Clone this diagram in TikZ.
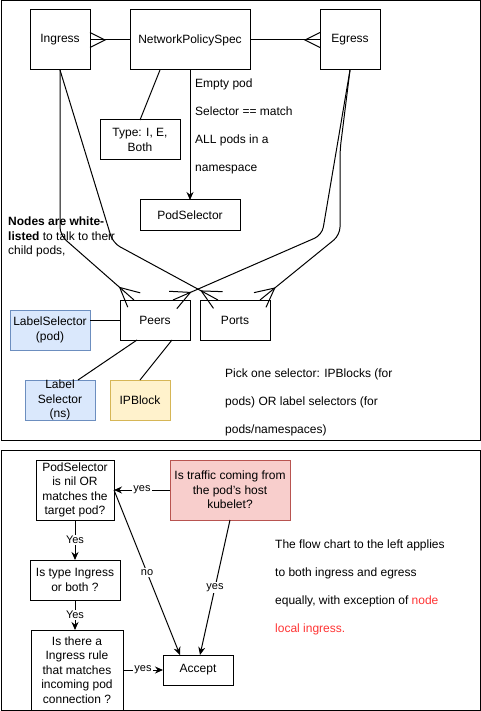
\documentclass[tikz,border=0pt]{standalone}
\usepackage{fontspec}
\setmainfont{Liberation Sans}
\usepackage{xcolor}
\definecolor{npblue}{HTML}{DAE8FC}
\definecolor{npbluedark}{HTML}{6C8EBF}
\definecolor{npyellow}{HTML}{FFF2CC}
\definecolor{npyellowdark}{HTML}{D6B656}
\definecolor{npred}{HTML}{F8CECC}
\definecolor{npreddark}{HTML}{B85450}
\definecolor{nphl}{HTML}{FF3333}
\usepackage{tikz}
\usetikzlibrary{arrows.meta, positioning, calc}

% crow's foot ("many") end
\pgfdeclarearrow{
  name = Crow,
  parameters = {\the\pgfarrowlength,\the\pgfarrowwidth},
  setup code = {
    \pgfarrowssettipend{0pt}
    \pgfarrowssetlineend{0pt}
    \pgfarrowssetbackend{-\pgfarrowlength}
    \pgfarrowssetvisualbackend{-\pgfarrowlength}
    \pgfarrowshullpoint{0pt}{.5\pgfarrowwidth}
    \pgfarrowshullpoint{0pt}{-.5\pgfarrowwidth}
    \pgfarrowshullpoint{-\pgfarrowlength}{0pt}
    \pgfarrowssavethe\pgfarrowlength
    \pgfarrowssavethe\pgfarrowwidth
  },
  drawing code = {
    \pgfsetdash{}{0pt}
    \pgfpathmoveto{\pgfqpoint{0pt}{.5\pgfarrowwidth}}
    \pgfpathlineto{\pgfqpoint{-\pgfarrowlength}{0pt}}
    \pgfpathlineto{\pgfqpoint{0pt}{-.5\pgfarrowwidth}}
    \pgfusepathqstroke
  },
  defaults = {length=15pt, width=15pt}
}

\begin{document}
\begin{tikzpicture}[
  x=1pt, y=-1pt,
  font=\fontsize{12}{14.4}\selectfont,
  box/.style={rectangle, draw=black, fill=white, line width=1pt,
    outer sep=0pt, inner sep=2pt, align=center},
  bluebox/.style={box, draw=npbluedark, fill=npblue},
  yellowbox/.style={box, draw=npyellowdark, fill=npyellow},
  redbox/.style={box, draw=npreddark, fill=npred},
  note/.style={anchor=west, align=left, inner sep=2pt,
    font=\fontsize{12}{28}\selectfont},
  link/.style={line width=1pt},
  arr/.style={-{Stealth[length=8pt, width=7pt]}, line width=1pt},
  crow/.style={-{Crow[length=15pt, width=15pt]}, line width=1pt},
  crowb/.style={-{Crow[length=19pt, width=19pt]}, line width=1pt,
    rounded corners=8pt},
  lbl/.style={font=\fontsize{11}{13}\selectfont, fill=white, inner sep=1pt},
  frame/.style={line width=1pt}
]
  \useasboundingbox (0,0) rectangle (481,711);
  \draw[frame] (1,1) rectangle (480,440);
  \draw[frame] (1,450) rectangle (480,710);

  % Top: the policy objects
  \node[box, minimum width=60pt, minimum height=60pt] (ingress) at (60,40) {Ingress};
  \node[box, minimum width=120pt, minimum height=60pt, right=40pt of ingress] (nps)
    {NetworkPolicySpec};
  \node[box, minimum width=60pt, minimum height=60pt, right=70pt of nps] (egress) {Egress};
  \node[box, minimum width=80pt, minimum height=40pt] (type) at (140,140)
    {Type: I, E,\\Both};
  \node[box, minimum width=100pt, minimum height=30pt] (podsel) at (190,215)
    {PodSelector};
  \node[box, minimum width=70pt, minimum height=40pt] (peers) at (155,320) {Peers};
  \node[box, minimum width=70pt, minimum height=40pt, right=10pt of peers] (ports)
    {Ports};
  \node[bluebox, minimum width=80pt, minimum height=40pt] (lblpod) at (50,330)
    {LabelSelector\\(pod)};
  \node[bluebox, minimum width=70pt, minimum height=40pt, inner sep=0pt] (lblns)
    at (60,400) {Label\\Selector\\(ns)};
  \node[yellowbox, minimum width=60pt, minimum height=40pt] (ipblock) at (140,400)
    {IPBlock};

  \node[note] (emptynote) at (193,126)
    {Empty pod\\Selector == match\\ALL pods in a\\namespace};
  \node[anchor=west, align=left, inner sep=2pt] (wlnote) at (6,237)
    {\textbf{Nodes are white-}\\\textbf{listed} to talk to their\\child pods,};
  \node[note] (picknote) at (223,402)
    {Pick one selector: IPBlocks (for\\pods) OR label selectors (for\\pods/namespaces)};

  \draw[crow] (nps) -- (ingress);
  \draw[crow] (nps) -- (egress);
  \draw[arr] (nps.south) -- (podsel.north);
  \draw[link] ($(nps.south)+(-30,0)$) -- (type.north);
  \draw[crowb] (ingress.south) -- ++(0,165) -- ($(peers.north)+(-21,0)$);
  \draw[crowb] (ingress.south) -- (113,243) -- ($(ports.north)+(-17,0)$);
  \draw[crowb] (egress.south) -- (322,235) -- ($(peers.north)+(18,0)$);
  \draw[crowb] (egress.south) -- (340,150) -- (340,235) -- ($(ports.north)+(25,0)$);
  \draw[link] (peers.west) -- (peers.west -| lblpod.east);
  \draw[link] ($(peers.south)+(-18,0)$) -- ($(lblns.north)+(18,0)$);
  \draw[link] ($(peers.south)+(17,0)$) -- (ipblock.north);

  % Bottom: flow chart
  \node[box, minimum width=78pt, minimum height=60pt] (selnil) at (75,490)
    {PodSelector\\is nil OR\\matches the\\target pod?};
  \node[redbox, minimum width=120pt, minimum height=60pt] (kubelet) at (230,490)
    {Is traffic coming from\\the pod's host\\kubelet?};
  \node[box, minimum width=90pt, minimum height=40pt] (itype) at (75,580)
    {Is type Ingress\\or both ?};
  \node[box, minimum width=92pt, minimum height=80pt] (irule) at (77,670)
    {Is there a\\Ingress rule\\that matches\\incoming pod\\connection ?};
  \node[box, minimum width=70pt, minimum height=30pt] (accept) at (198,670) {Accept};

  \node[note] (flownote) at (273,587)
    {The flow chart to the left applies\\to both ingress and egress\\equally,
     with exception of \textcolor{nphl}{node}\\\textcolor{nphl}{local ingress.}};

  \draw[arr] (kubelet) -- node[lbl]{yes} (selnil);
  \draw[arr] (selnil) -- node[lbl]{Yes} (itype);
  \draw[arr] (itype.south) -- node[lbl]{Yes} (itype.south |- irule.north);
  \draw[arr] (irule) -- node[lbl]{yes} (accept);
  \draw[arr] (selnil.east) -- node[lbl]{no} ($(accept.north)+(-18,0)$);
  \draw[arr] (kubelet.south) -- node[lbl]{yes} ($(accept.north)+(2,0)$);
\end{tikzpicture}
\end{document}
